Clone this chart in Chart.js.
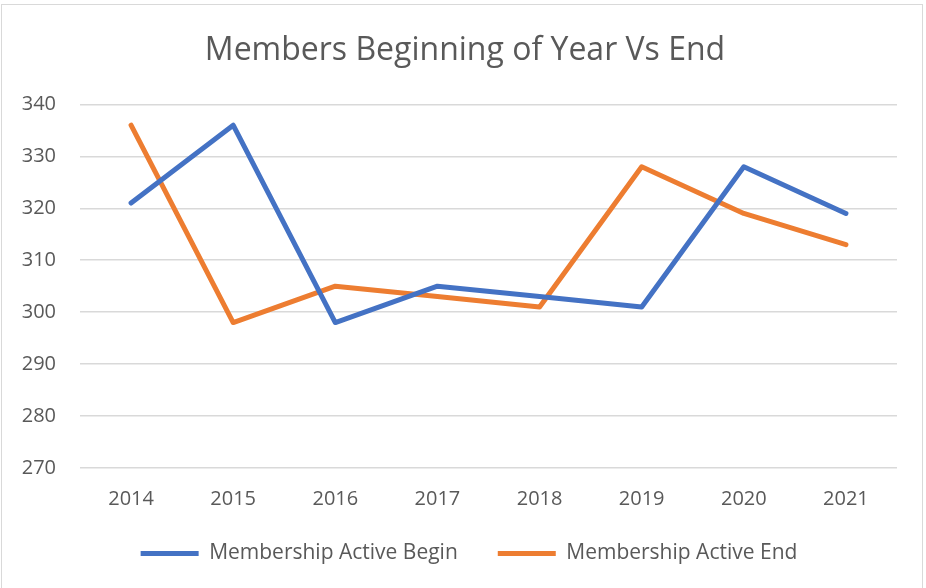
<!DOCTYPE html>
<html><head><meta charset="utf-8">
<script src="https://cdn.jsdelivr.net/npm/chart.js@4/dist/chart.umd.min.js"></script>
<style>
html,body{margin:0;padding:0;background:#fff;}
#wrap{position:absolute;left:0;top:0;width:926px;height:588px;}
#frame{position:absolute;left:1px;top:4px;width:922px;height:590px;border:1.5px solid #D9D9D9;box-sizing:border-box;pointer-events:none;}
</style></head><body>
<div id="wrap"><canvas id="c" width="926" height="588"></canvas></div>
<div id="frame"></div>
<script>
const years = ["2014","2015","2016","2017","2018","2019","2020","2021"];
const activeBegin = [321,336,298,305,303,301,328,319];
const activeEnd = [336,298,305,303,301,328,319,313];
const FONT = '"Open Sans",sans-serif';
const TXT = '#595959';
const BASE_PAD = 21, ITEM_GAP = 40;
const layoutTweak = {
  id:'layoutTweak',
  afterLayout(chart){
    const lg = chart.legend;
    if (lg) {
      const d = ITEM_GAP - BASE_PAD;
      lg.options.labels.padding = ITEM_GAP;
      lg.top -= d; lg.height += d;
      if (lg.lineWidths) lg.lineWidths[0] += d * chart.data.datasets.length;
      lg.left = 12; lg.right = 926; lg.width = 914;
    }
    const tb = chart.titleBlock;
    if (tb) { tb.left = 4; tb.right = 926; tb.width = 922; }
  }
};
new Chart(document.getElementById('c'), {
  type: 'line',
  data: {
    labels: years,
    datasets: [
      {label:'Membership Active Begin', data: activeBegin, borderColor:'#4472C4', backgroundColor:'#4472C4', borderWidth:5, pointRadius:0, borderCapStyle:'round', borderJoinStyle:'round', tension:0},
      {label:'Membership Active End', data: activeEnd, borderColor:'#ED7D31', backgroundColor:'#ED7D31', borderWidth:5, pointRadius:0, borderCapStyle:'round', borderJoinStyle:'round', tension:0}
    ]
  },
  plugins:[layoutTweak],
  options: {
    responsive:false, animation:false,
    layout:{padding:{left:8,right:29,top:32,bottom:14}},
    plugins:{
      title:{display:true,text:'Members Beginning of Year Vs End',color:TXT,font:{family:FONT,size:32,weight:'normal'},padding:{top:0,bottom:34}},
      legend:{position:'bottom',labels:{color:TXT,font:{family:FONT,size:21},usePointStyle:true,pointStyle:'line',pointStyleWidth:58,padding:BASE_PAD}},
      tooltip:{enabled:false}
    },
    scales:{
      x:{offset:true,grid:{display:false},border:{display:false},ticks:{color:TXT,font:{family:FONT,size:20},padding:11,maxRotation:0}},
      y:{min:270,max:340,grid:{color:'#D9D9D9',lineWidth:1.5,drawTicks:false},border:{display:false},ticks:{stepSize:10,color:TXT,font:{family:FONT,size:20},padding:24},afterFit:(s)=>{s.width=72;}}
    }
  }
});
</script></body></html>
